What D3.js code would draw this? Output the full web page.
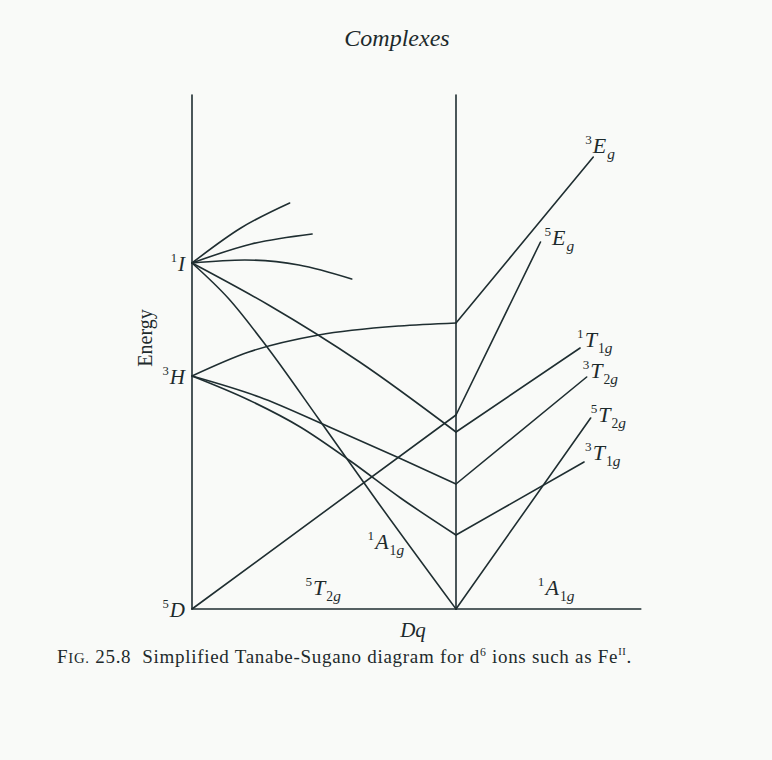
<!DOCTYPE html>
<html>
<head>
<meta charset="utf-8">
<script src="https://cdn.jsdelivr.net/npm/d3@7"></script>
<style>
  html, body { margin: 0; padding: 0; background: #f9faf8; }
  svg { display: block; }
  text { fill: #1d2a2c; }
</style>
</head>
<body>
<svg id="chart" width="772" height="760"></svg>
<script>
// Simplified Tanabe–Sugano diagram for d6 (e.g. Fe(II)) complexes.
// Energies in arbitrary units, Dq in arbitrary units; the spin crossover sits at Dq = 20.

const crossoverDq = 20;
const dqMax = 34;
const energyMax = 52;

// Free-ion terms on the energy axis
const freeIonSup = ["1", "3", "5"];
const freeIonSym = ["I", "H", "D"];
const freeIonEnergy = [34.6, 23.3, 0];

// Weak-field (high-spin) branches, running from the free-ion terms to the crossover
const weakBranches = [
  [[0, 34.6], [3.7, 38.1], [7.4, 40.6]],
  [[0, 34.6], [4.5, 36.5], [9.1, 37.5]],
  [[0, 34.6], [4.0, 34.9], [8.1, 34.4], [12.1, 33.0]],
  [[0, 34.6], [2.8, 31.0], [5.8, 26.0], [9.6, 19.0], [13.9, 11.0], [20, 0]],
  [[0, 34.6], [5.8, 30.4], [12.7, 24.7], [20, 17.7]],
  [[0, 23.3], [4.3, 25.7], [9.6, 27.4], [15.7, 28.3], [20, 28.6]],
  [[0, 23.3], [5.1, 21.2], [10.4, 18.2], [15.7, 15.1], [20, 12.5]],
  [[0, 23.3], [4.3, 20.9], [8.2, 18.2], [12.0, 14.8], [15.8, 11.1], [20, 7.4]],
  [[0, 0], [20, 19.4]]
];

// Strong-field (low-spin) branches, straight lines beyond the crossover
const strongSup = ["3", "5", "1", "3", "5", "3"];
const strongSym = ["E", "E", "T", "T", "T", "T"];
const strongSub = ["g", "g", "1g", "2g", "2g", "1g"];
const strongStart = [[20, 28.6], [20, 19.4], [20, 17.7], [20, 12.5], [20, 0], [20, 7.4]];
const strongEnd = [[30.4, 45.2], [26.4, 36.7], [29.4, 26.1], [29.9, 23.2], [30.2, 19.1], [29.7, 14.7]];

// Ground states along the Dq axis
const groundSup = ["5", "1"];
const groundSym = ["T", "A"];
const groundSub = ["2g", "1g"];
const groundSpan = [[0, 20], [20, dqMax]];

const svg = d3.select("#chart");
const serif = "'Liberation Serif', 'Times New Roman', serif";
const ink = "#1f2e31";

const x = d3.scaleLinear().domain([0, dqMax]).range([192, 192 + dqMax * 13.2]);
const y = d3.scaleLinear().domain([0, energyMax]).range([609, 89]);

const lineSmooth = d3.line().x(d => x(d[0])).y(d => y(d[1])).curve(d3.curveMonotoneX);
const lineStraight = d3.line().x(d => x(d[0])).y(d => y(d[1]));

const plot = svg.append("g")
  .attr("fill", "none")
  .attr("stroke", ink)
  .attr("stroke-width", 1.6)
  .attr("stroke-linecap", "round");

// Energy axis and the crossover line
plot.append("line")
  .attr("x1", x(0)).attr("x2", x(0))
  .attr("y1", y(energyMax) + 6).attr("y2", y(0));
plot.append("line")
  .attr("x1", x(crossoverDq)).attr("x2", x(crossoverDq))
  .attr("y1", y(energyMax) + 6).attr("y2", y(0));

// Ground-state lines (bottom axis)
groundSpan.forEach(s => {
  plot.append("path").attr("d", lineStraight([[s[0], 0], [s[1], 0]]));
});

// High-spin branches
weakBranches.forEach(b => plot.append("path").attr("d", lineSmooth(b)));

// Low-spin branches
strongStart.forEach((s, i) => {
  plot.append("path").attr("d", lineStraight([s, strongEnd[i]]));
});

// Term symbol: left superscript, italic letter, subscript (digit upright, g italic)
function term(g, px, py, sup, sym, sub, size, anchor) {
  const t = g.append("text")
    .attr("x", px).attr("y", py)
    .attr("font-family", serif)
    .attr("text-anchor", anchor || "start");
  t.append("tspan").text(sup)
    .attr("font-size", size * 0.6)
    .attr("dy", -size * 0.42);
  t.append("tspan").text(sym)
    .attr("font-style", "italic")
    .attr("font-size", size)
    .attr("dy", size * 0.42)
    .attr("dx", 1);
  if (sub) {
    const digits = sub.replace("g", "");
    let first = true;
    if (digits) {
      t.append("tspan").text(digits)
        .attr("font-size", size * 0.62)
        .attr("dy", size * 0.28)
        .attr("dx", 1);
      first = false;
    }
    t.append("tspan").text("g")
      .attr("font-style", "italic")
      .attr("font-size", size * 0.7)
      .attr("dy", first ? size * 0.28 : 0)
      .attr("dx", first ? 1 : 0);
  }
  return t;
}

const labels = svg.append("g");

// Free-ion term labels, right-aligned against the energy axis
freeIonEnergy.forEach((e, i) => {
  term(labels, x(0) - 7, y(e) + 8, freeIonSup[i], freeIonSym[i], "", 21, "end");
});

// Low-spin term labels at the ends of their lines
const strongLabelOffset = [[-8, -4], [4, 3], [-3, -1], [-4, 1], [0, 4], [1, -2]];
strongEnd.forEach((p, i) => {
  term(labels, x(p[0]) + strongLabelOffset[i][0], y(p[1]) + strongLabelOffset[i][1],
    strongSup[i], strongSym[i], strongSub[i], 22);
});

// Ground-state labels just above the Dq axis
term(labels, x(8.6), y(0) - 14, groundSup[0], groundSym[0], groundSub[0], 22);
term(labels, x(26.2), y(0) - 14, groundSup[1], groundSym[1], groundSub[1], 22);

// Label beside the falling 1A1g branch below the crossover
term(labels, x(13.3), y(6.0), "1", "A", "1g", 22);

// Axis titles
svg.append("text")
  .attr("transform", `translate(${x(0) - 40},${y(27.1)}) rotate(-90)`)
  .attr("text-anchor", "middle")
  .attr("font-family", serif)
  .attr("font-size", 20)
  .text("Energy");

svg.append("text")
  .attr("x", 413).attr("y", 637)
  .attr("text-anchor", "middle")
  .attr("font-family", serif)
  .attr("font-style", "italic")
  .attr("font-size", 21)
  .text("Dq");

svg.append("text")
  .attr("x", 397).attr("y", 46)
  .attr("text-anchor", "middle")
  .attr("font-family", serif)
  .attr("font-style", "italic")
  .attr("font-size", 24)
  .text("Complexes");

// Figure caption, spread to span its column
const cs = 19;
const cap = svg.append("text")
  .attr("x", 57).attr("y", 663)
  .attr("font-family", serif)
  .attr("font-size", cs)
  .style("white-space", "pre");
cap.append("tspan").text("F");
cap.append("tspan").text("IG.").attr("font-size", cs * 0.78);
cap.append("tspan").text(" 25.8  Simplified Tanabe-Sugano diagram for d");
cap.append("tspan").text("6").attr("font-size", cs * 0.62).attr("dy", -cs * 0.38);
cap.append("tspan").text(" ions such as Fe").attr("dy", cs * 0.38);
cap.append("tspan").text("II").attr("font-size", cs * 0.55).attr("dy", -cs * 0.4);
cap.append("tspan").text(".").attr("dy", cs * 0.4);
const capWidth = cap.node().getBBox().width;
const capChars = cap.text().length;
cap.attr("letter-spacing", Math.max(0, (575 - capWidth) / capChars));
</script>
</body>
</html>
